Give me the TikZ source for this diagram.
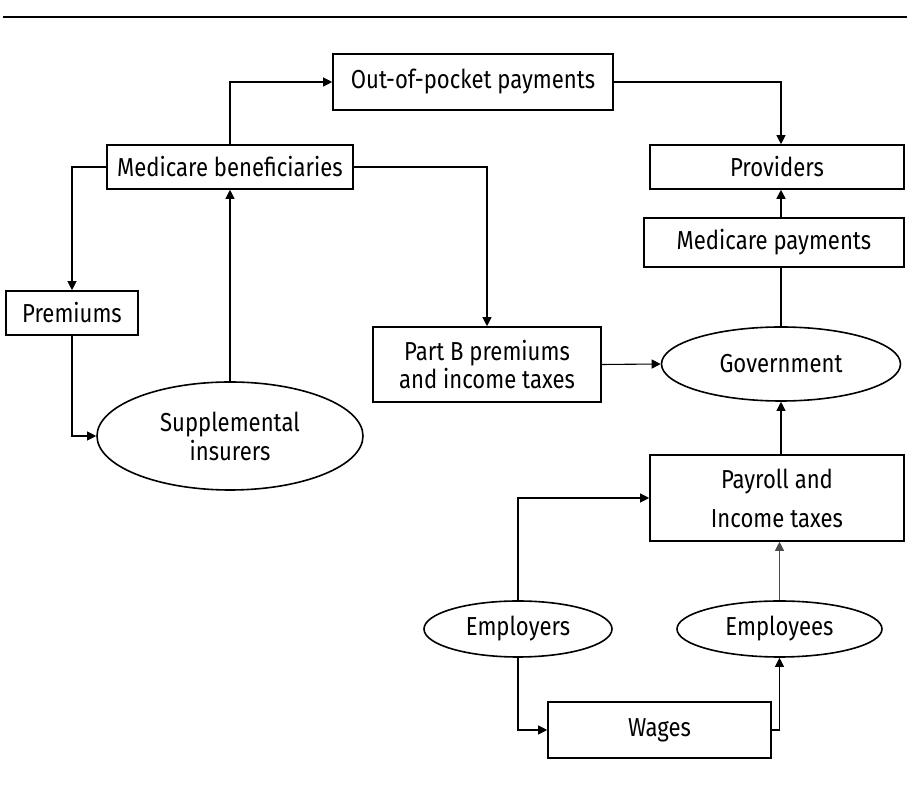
\documentclass[tikz,border=0pt]{standalone}
\usepackage{fontspec}
\setmainfont{Fira Sans}[FakeStretch=0.85]
\usetikzlibrary{shapes.geometric,arrows.meta}

\begin{document}
\begin{tikzpicture}[x=0.5pt, y=-0.5pt, >={Triangle[length=4.5pt,width=4.5pt]},
    box/.style={rectangle, draw, line width=0.8pt, inner sep=0pt, align=center, font=\fontsize{13}{14}\selectfont},
    oval/.style={ellipse, draw, line width=0.8pt, inner sep=0pt, align=center, font=\fontsize{13}{14.5}\selectfont},
    flow/.style={line width=0.55pt}]
    \useasboundingbox (0,0) rectangle (907,785);

    % 上の罫線
    \draw[line width=1.1pt] (3,17) -- (907,17);

    % ノードを描画
    \node[box, minimum width=140pt, minimum height=28pt] (oop) at (473,82) {Out-of-pocket payments};
    \node[box, minimum width=123pt, minimum height=22pt] (mb) at (230,167) {Medicare beneficiaries};
    \node[box, minimum width=127pt, minimum height=22pt] (prov) at (777,167) {Providers};
    \node[box, minimum width=130pt, minimum height=24.5pt] (mp) at (774,242.5) {Medicare payments};
    \node[box, minimum width=66pt, minimum height=22pt] (prem) at (72,313) {Premiums};
    \node[box, minimum width=114pt, minimum height=37.5pt] (partb) at (487,364.5) {Part B premiums\\and income taxes};
    \node[oval, minimum width=119.5pt, minimum height=37pt] (gov) at (781,364) {Government};
    \node[oval, minimum width=133pt, minimum height=54pt] (supp) at (230,436) {Supplemental\\insurers};
    \node[box, minimum width=127pt, minimum height=43pt, font=\fontsize{13}{19.5}\selectfont] (payroll) at (777,498) {Payroll and\\Income taxes};
    \node[oval, minimum width=94pt, minimum height=28pt] (emp) at (518,629) {Employers};
    \node[oval, minimum width=102.5pt, minimum height=28pt] (ees) at (779.5,629) {Employees};
    \node[box, minimum width=111.5pt, minimum height=28pt] (wages) at (659.5,730) {Wages};

    % エッジを描画
    \draw[flow, ->] (mb.north) |- (oop.west);
    \draw[flow, ->] (oop.east) -| (gov.north |- prov.north);
    \draw[flow, ->] (mb.west) -| (prem.north);
    \draw[flow, ->] (mb.east) -| (partb.north);
    \draw[flow, ->] (prem.south) |- (supp.west);
    \draw[flow, ->] (supp.north) -- (mb.south);
    \draw[flow, ->] (partb.east) -- (gov.west);
    \draw[line width=0.8pt] (gov.north) -- (gov.north |- mp.south);
    \draw[line width=0.8pt, ->] (gov.north |- mp.north) -- (gov.north |- prov.south);
    \draw[flow, ->] (gov.south |- payroll.north) -- (gov.south);
    \draw[flow, ->] (emp.north) |- (payroll.west);
    \draw[line width=0.4pt, black!70, ->] (ees.north) -- (ees.north |- payroll.south);
    \draw[flow, ->] (emp.south) |- (wages.west);
    \draw[flow, ->] (wages.east) -| (ees.south);
\end{tikzpicture}
\end{document}
